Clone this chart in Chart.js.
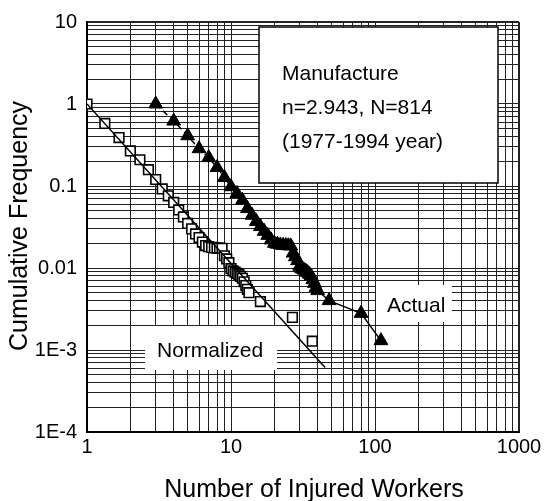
<!DOCTYPE html>
<html>
<head>
<meta charset="utf-8">
<script src="https://cdn.jsdelivr.net/npm/chart.js@4.4.0/dist/chart.umd.min.js"></script>
<style>
  body { margin:0; background:#fff; }
  #wrap { width:545px; height:501px; }
</style>
</head>
<body>
<div id="wrap"><canvas id="chart" width="545" height="501"></canvas></div>
<script>
//-----------------Data
const actualX = [3,4,5,6,7,8,9,10,11,12,13,14,15,16,17,18,19,20,21,22,23,24,25,26,27,28,29,30,31,32,33,34,35,36,37,38,39,40,48,80,110]
const actualY = [1.0,0.62,0.41,0.285,0.222,0.168,0.127,0.098,0.081,0.067,0.053,0.044,0.037,0.032,0.028,0.025,0.022,0.0200,0.0195,0.0191,0.0189,0.0188,0.0187,0.0186,0.0152,0.0137,0.0123,0.0105,0.0098,0.0095,0.0092,0.0088,0.0084,0.0080,0.0072,0.0065,0.0058,0.0053,0.0040,0.0028,0.0013]

const normX = [1,1.33,1.67,2,2.33,2.67,3,3.33,3.67,4,4.33,4.67,5,5.33,5.67,6,6.33,6.67,7,7.33,7.67,8,8.33,8.67,9,9.33,9.67,10,10.33,10.67,11,11.33,11.67,12,12.33,12.67,13,13.33,16,26.7,36.7]
const normY = [1.0,0.58,0.39,0.268,0.209,0.158,0.12,0.092,0.076,0.063,0.051,0.042,0.035,0.030,0.026,0.0235,0.0207,0.0188,0.0182,0.0178,0.0176,0.0175,0.0175,0.0174,0.0141,0.0129,0.0116,0.0098,0.0092,0.0089,0.0086,0.0083,0.0079,0.0075,0.0068,0.0061,0.0055,0.0050,0.0039,0.0025,0.00128]

//fitted line for the normalized data
const fitX = [1, 45]
const fitY = [1, 0.00061]

const xTickValues = [1, 10, 100, 1000]
const xTickLabels = ['1', '10', '100', '1000']
const yTickValues = [1e-4, 1e-3, 0.01, 0.1, 1, 10]
const yTickLabels = ['1E-4', '1E-3', '0.01', '0.1', '1', '10']

const infoLines = ['Manufacture', 'n=2.943, N=814', '(1977-1994 year)']
const xTitle = 'Number of Injured Workers'
const yTitle = 'Cumulative Frequency'

const FONT = '"Liberation Sans", Arial, sans-serif'

function toPoints(xs, ys){
  return xs.map((x, i) => ({x: x, y: ys[i]}))
}

//gridlines at 1..9 of every decade
function logGrid(minExp, maxExp){
  const out = []
  for (let e = minExp; e < maxExp; e++){
    for (let m = 1; m < 10; m++) out.push({value: +(m * Math.pow(10, e)).toPrecision(6)})
  }
  out.push({value: Math.pow(10, maxExp)})
  return out
}

function labelFor(values, labels){
  return function(value){
    const i = values.findIndex(v => Math.abs(Math.log10(v) - Math.log10(value)) < 1e-6)
    return i < 0 ? '' : labels[i]
  }
}

//white boxes, text labels and axis titles
const annotations = {
  id: 'annotations',
  beforeDatasetsDraw(chart){
    const c = chart.ctx
    c.save()
    c.fillStyle = '#fff'
    c.fillRect(259, 27, 239, 156)
    c.strokeStyle = '#000'
    c.lineWidth = 1.5
    c.strokeRect(259, 27, 239, 156)
    c.fillRect(145, 326, 132, 44)
    c.fillRect(376, 285, 76, 37)
    c.fillStyle = '#000'
    c.font = '21px ' + FONT
    c.textBaseline = 'alphabetic'
    c.textAlign = 'left'
    infoLines.forEach((t, i) => c.fillText(t, 282, 80 + i * 34))
    c.fillText('Normalized', 157, 357)
    c.fillText('Actual', 387, 312)
    c.restore()
  },
  afterDraw(chart){
    const c = chart.ctx
    c.save()
    c.fillStyle = '#000'
    c.font = '25px ' + FONT
    c.textAlign = 'center'
    c.textBaseline = 'alphabetic'
    c.fillText(xTitle, 314, 497)
    c.translate(27, 226)
    c.rotate(-Math.PI / 2)
    c.fillText(yTitle, 0, 0)
    c.restore()
  }
}

const ctx = document.getElementById('chart').getContext('2d')
const chart = new Chart(ctx, {
  type: 'scatter',
  data: {
    datasets: [
      {
        label: 'fit',
        data: toPoints(fitX, fitY),
        showLine: true,
        borderColor: '#000',
        borderWidth: 1.5,
        pointRadius: 0
      },
      {
        label: 'Normalized',
        data: toPoints(normX, normY),
        showLine: false,
        pointStyle: 'rect',
        pointRadius: 6.8,
        pointBackgroundColor: '#fff',
        pointBorderColor: '#000',
        pointBorderWidth: 1.6
      },
      {
        label: 'Actual',
        data: toPoints(actualX, actualY),
        showLine: true,
        borderColor: '#000',
        borderWidth: 1.5,
        segment: {
          borderDash: s => s.p0.parsed.x < 9 ? [6, 4] : undefined
        },
        pointStyle: 'triangle',
        pointRadius: 8,
        pointBackgroundColor: '#000',
        pointBorderColor: '#000',
        pointBorderWidth: 1
      }
    ]
  },
  options: {
    responsive: false,
    animation: false,
    layout: { padding: { top: 21, right: 26, left: 0, bottom: 0 } },
    plugins: {
      legend: { display: false },
      tooltip: { enabled: false }
    },
    scales: {
      x: {
        type: 'logarithmic',
        min: 1,
        max: 1000,
        afterBuildTicks: s => { s.ticks = logGrid(0, 3) },
        afterFit: s => { s.height = 69 },
        ticks: {
          autoSkip: false,
          maxRotation: 0,
          padding: 3,
          color: '#000',
          font: { size: 20, family: FONT },
          callback: labelFor(xTickValues, xTickLabels)
        },
        grid: {
          drawTicks: false,
          color: '#222',
          lineWidth: c => (c.tick && c.tick.value === 1000) ? 2 : 1
        },
        border: { display: true, color: '#000', width: 2 }
      },
      y: {
        type: 'logarithmic',
        min: 1e-4,
        max: 10,
        afterBuildTicks: s => { s.ticks = logGrid(-4, 1) },
        afterFit: s => { s.width = 87 },
        ticks: {
          autoSkip: false,
          padding: 10,
          color: '#000',
          font: { size: 20, family: FONT },
          callback: labelFor(yTickValues, yTickLabels)
        },
        grid: {
          drawTicks: false,
          color: '#222',
          lineWidth: c => (c.tick && c.tick.value === 10) ? 2 : 1
        },
        border: { display: true, color: '#000', width: 2 }
      }
    }
  },
  plugins: [annotations]
})
</script>
</body>
</html>
